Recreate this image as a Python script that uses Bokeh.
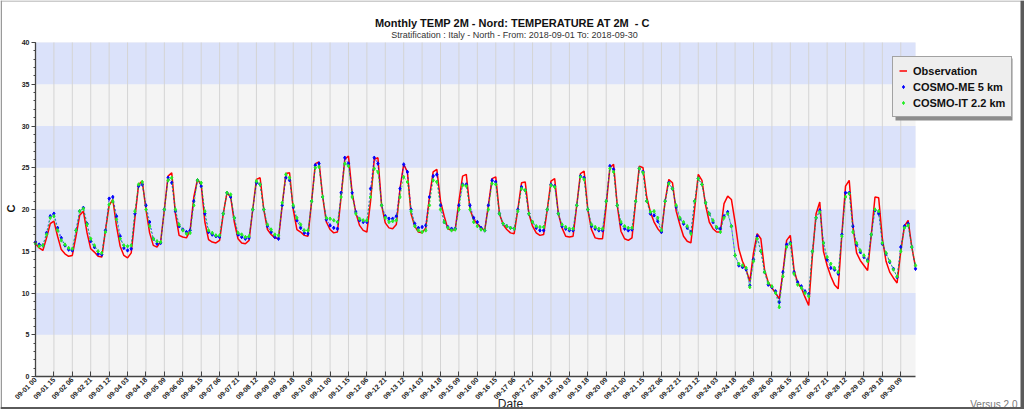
import math
from bokeh.plotting import figure
from bokeh.models import (Range1d, FixedTicker, Label, BoxAnnotation, Legend,
                          LegendItem, ColumnDataSource, LinearAxis)
from bokeh.embed import file_html
from bokeh.resources import INLINE

# ---------------- data (3-hourly, 2018-09-01 00 .. 2018-09-30 21) ----------------
tick_labels = [
    "09-01 00", "09-01 15", "09-02 06", "09-02 21", "09-03 12", "09-04 03",
    "09-04 18", "09-05 09", "09-06 00", "09-06 15", "09-07 06", "09-07 21",
    "09-08 12", "09-09 03", "09-09 18", "09-10 09", "09-11 00", "09-11 15",
    "09-12 06", "09-12 21", "09-13 12", "09-14 03", "09-14 18", "09-15 09",
    "09-16 00", "09-16 15", "09-17 06", "09-17 21", "09-18 12", "09-19 03",
    "09-19 18", "09-20 09", "09-21 00", "09-21 15", "09-22 06", "09-22 21",
    "09-23 12", "09-24 03", "09-24 18", "09-25 09", "09-26 00", "09-26 15",
    "09-27 06", "09-27 21", "09-28 12", "09-29 03", "09-29 18", "09-30 09",
]

observation = [
    15.9, 15.4, 15.1, 16.6, 18.3, 18.6, 16.8, 15.2,
    14.7, 14.4, 14.5, 16.8, 19.3, 19.8, 17.2, 15.3,
    14.9, 14.4, 14.3, 17.5, 20.5, 21.2, 18.0, 15.6,
    14.5, 14.2, 14.8, 19.0, 23.0, 23.4, 20.0, 17.2,
    15.7, 15.5, 16.2, 20.0, 24.0, 24.4, 19.5, 16.9,
    16.7, 16.6, 17.5, 21.5, 23.6, 23.0, 18.5, 16.4,
    16.1, 16.0, 16.3, 19.5, 22.0, 21.5, 18.5, 16.5,
    16.0, 15.9, 16.3, 20.0, 23.6, 23.8, 20.0, 17.6,
    17.0, 16.6, 16.5, 20.5, 24.3, 24.4, 20.0, 17.6,
    17.3, 16.9, 16.8, 21.0, 25.5, 25.7, 21.5, 18.5,
    17.6, 17.2, 17.3, 21.5, 26.0, 26.4, 22.0, 19.6,
    18.1, 17.5, 17.3, 21.0, 26.0, 26.2, 20.5, 18.4,
    17.8, 17.7, 18.2, 22.5, 25.4, 24.5, 19.5, 18.0,
    17.3, 17.2, 17.8, 21.5, 24.5, 24.8, 21.0, 19.2,
    17.7, 17.5, 17.6, 21.0, 24.0, 24.2, 20.0, 18.8,
    18.3, 17.8, 17.5, 20.5, 23.7, 23.9, 19.5, 18.2,
    17.6, 17.2, 17.1, 20.0, 23.2, 23.3, 19.5, 18.0,
    17.2, 16.9, 17.0, 20.0, 23.4, 23.7, 19.5, 17.8,
    16.8, 16.7, 16.8, 20.5, 24.3, 24.6, 20.0, 17.6,
    16.6, 16.5, 16.5, 20.5, 25.0, 25.4, 20.5, 17.4,
    16.5, 16.3, 16.6, 21.0, 25.2, 25.0, 21.5, 19.7,
    18.5, 17.7, 17.2, 21.0, 23.6, 23.2, 19.8, 18.2,
    16.8, 16.2, 16.0, 20.0, 24.2, 23.5, 20.5, 18.5,
    17.7, 17.3, 17.3, 20.7, 21.6, 21.2, 18.5, 15.3,
    13.8, 12.8, 11.4, 14.8, 17.1, 16.5, 12.8, 11.3,
    10.6, 10.0, 9.3, 12.5, 16.3, 16.9, 12.8, 11.2,
    10.6, 9.5, 8.5, 14.5, 19.5, 20.9, 15.0, 13.3,
    12.0, 11.0, 10.5, 17.0, 22.8, 23.5, 18.0, 14.8,
    13.9, 13.3, 12.7, 17.0, 21.5, 21.4, 16.5, 13.8,
    12.5, 11.8, 11.2, 15.0, 18.0, 18.7, 15.5, 13.1,
]

cosmo_me = [
    16.1, 15.8, 15.7, 17.2, 19.2, 19.5, 17.8, 16.6,
    15.7, 15.2, 15.1, 17.5, 19.8, 20.2, 18.3, 16.2,
    15.5, 14.7, 14.6, 17.5, 21.3, 21.5, 19.2, 16.8,
    15.4, 15.1, 15.3, 19.5, 22.8, 23.0, 20.5, 18.5,
    16.5, 15.9, 16.0, 20.0, 23.8, 23.2, 19.8, 18.0,
    17.6, 17.3, 17.5, 21.0, 23.5, 22.8, 19.5, 17.3,
    17.0, 16.8, 16.7, 19.5, 22.0, 21.5, 19.0, 17.0,
    16.7, 16.5, 16.6, 20.0, 23.2, 23.0, 20.0, 18.0,
    17.3, 16.7, 16.5, 20.5, 23.8, 23.5, 20.3, 18.7,
    17.8, 17.2, 17.1, 21.0, 25.3, 25.5, 21.5, 18.8,
    18.1, 17.8, 17.7, 22.0, 26.2, 25.5, 22.0, 19.7,
    18.7, 18.5, 18.5, 22.5, 26.2, 25.5, 20.5, 19.2,
    18.9, 18.9, 19.2, 22.5, 25.4, 24.5, 20.0, 18.3,
    17.8, 17.9, 18.1, 21.5, 24.0, 24.2, 20.5, 18.5,
    17.9, 17.7, 17.7, 20.5, 23.0, 23.0, 20.5, 19.0,
    18.5, 17.8, 17.5, 20.5, 23.5, 23.3, 19.5, 18.3,
    18.0, 17.8, 17.7, 20.0, 22.7, 22.3, 19.5, 18.5,
    17.8, 17.5, 17.5, 20.0, 23.0, 22.8, 19.5, 18.0,
    17.7, 17.5, 17.5, 20.5, 24.0, 23.8, 20.0, 18.0,
    17.7, 17.5, 17.5, 21.0, 25.2, 24.8, 20.5, 18.3,
    17.7, 17.5, 17.6, 21.0, 24.9, 24.5, 21.0, 19.5,
    19.3, 18.6, 17.3, 21.0, 23.2, 22.5, 20.3, 18.9,
    18.3, 17.8, 17.3, 21.0, 23.7, 23.0, 20.8, 19.5,
    18.5, 17.8, 17.7, 19.2, 19.7, 18.0, 14.5, 13.3,
    13.1, 12.8, 10.9, 14.0, 16.8, 15.0, 12.5, 11.0,
    10.7, 10.2, 8.9, 12.5, 15.8, 16.0, 12.5, 11.3,
    10.8, 10.2, 9.9, 15.0, 19.0, 19.9, 16.0, 14.0,
    13.0, 12.8, 12.3, 17.0, 22.0, 22.0, 18.0, 15.8,
    14.9, 14.3, 13.9, 17.0, 19.9, 19.5, 15.9, 14.7,
    13.7, 12.9, 11.9, 15.5, 18.0, 18.3, 15.5, 12.9,
]

cosmo_it = [
    15.9, 15.6, 15.7, 17.0, 19.0, 19.2, 17.5, 16.3,
    15.8, 15.4, 15.3, 17.5, 19.8, 20.1, 18.2, 16.5,
    15.7, 15.0, 14.8, 17.3, 20.6, 21.0, 18.8, 16.5,
    15.7, 15.6, 15.7, 19.8, 23.0, 23.3, 20.0, 18.0,
    16.5, 16.2, 16.1, 20.0, 23.5, 23.8, 20.0, 18.2,
    17.5, 17.1, 17.2, 20.5, 23.5, 23.2, 19.8, 17.5,
    17.2, 16.9, 16.9, 19.5, 22.0, 21.8, 19.0, 17.2,
    17.0, 16.7, 16.8, 20.0, 23.4, 23.0, 20.0, 18.2,
    17.6, 17.0, 16.9, 20.8, 24.2, 23.8, 20.5, 19.0,
    18.2, 17.5, 17.5, 21.0, 25.0, 25.1, 21.5, 19.0,
    18.9, 18.7, 18.5, 21.5, 25.5, 25.2, 21.5, 19.5,
    18.9, 18.7, 18.7, 21.5, 24.9, 24.5, 20.5, 19.0,
    18.5, 18.6, 18.7, 21.5, 23.9, 23.3, 19.8, 18.0,
    17.5, 17.3, 17.5, 20.5, 23.5, 23.3, 20.0, 18.5,
    17.8, 17.5, 17.6, 20.0, 22.9, 22.8, 20.0, 18.5,
    18.0, 17.6, 17.5, 20.0, 23.1, 23.0, 19.5, 18.3,
    18.0, 17.8, 17.7, 19.8, 22.5, 22.3, 19.5, 18.5,
    18.0, 17.9, 17.9, 20.0, 22.9, 22.7, 19.5, 18.2,
    17.9, 17.7, 17.7, 20.5, 23.9, 23.6, 20.0, 18.2,
    17.9, 17.7, 17.7, 21.0, 24.9, 24.5, 20.5, 18.5,
    18.0, 17.8, 17.8, 21.0, 24.9, 24.4, 21.0, 19.7,
    19.8, 19.0, 17.5, 21.0, 23.1, 22.5, 20.5, 19.0,
    18.5, 18.0, 17.1, 21.0, 23.7, 23.0, 20.8, 19.5,
    18.7, 17.9, 17.3, 19.0, 19.5, 18.0, 14.5, 13.5,
    13.3, 13.0, 10.7, 13.8, 16.5, 15.0, 12.5, 11.2,
    10.8, 10.0, 8.3, 12.0, 15.5, 15.9, 12.3, 11.0,
    10.6, 10.0, 9.6, 15.0, 19.0, 19.7, 16.0, 14.3,
    13.5, 13.0, 12.5, 16.8, 21.5, 21.9, 17.3, 16.0,
    15.1, 14.5, 13.8, 17.0, 20.0, 19.8, 16.0, 14.8,
    13.8, 12.8, 12.0, 15.0, 17.8, 18.1, 15.5, 13.3,
]

y_ticks = [0, 5, 10, 15, 20, 25, 30, 35, 40]
blue_bands = [(5, 10), (15, 20), (25, 30), (35, 40)]
y_min, y_max = 0, 40

# ---------------- figure ----------------
W, H = 1024, 409
FRAME_L, FRAME_R, FRAME_T, FRAME_B = 35, 915, 42, 376   # plot area in page pixels

step = list(range(len(observation)))
x_last = len(step) - 1
tick_pos = list(range(0, len(observation), 5))[:len(tick_labels)]

# the whole canvas is the frame; the ranges are widened so the data area sits
# where the reference draws it and the texts around it are not clipped
px_x = (FRAME_R - FRAME_L) / x_last
px_y = (FRAME_B - FRAME_T) / (y_max - y_min)
x_range = Range1d(-FRAME_L / px_x, x_last + (W - FRAME_R) / px_x)
y_range = Range1d(y_min - (H - FRAME_B) / px_y, y_max + FRAME_T / px_y)

src = ColumnDataSource(dict(x=step, obs=observation, me=cosmo_me, it=cosmo_it))

FONT = "Liberation Sans"
p = figure(width=W, height=H, output_backend="svg", toolbar_location=None,
           x_range=x_range, y_range=y_range, x_axis_location=None,
           y_axis_location=None, min_border=0, title=None)
p.outline_line_color = None
p.background_fill_color = "white"
p.border_fill_color = "white"
p.xgrid.visible = False
p.ygrid.visible = False

# plot area background + horizontal bands
p.add_layout(BoxAnnotation(left=0, right=x_last, bottom=y_min, top=y_max,
                           fill_color="#f4f4f4", fill_alpha=1.0, line_color=None,
                           level="image"))
for b0, b1 in blue_bands:
    p.add_layout(BoxAnnotation(left=0, right=x_last, bottom=b0, top=b1,
                               fill_color="#dbe2fa", fill_alpha=1.0, line_color=None,
                               level="image"))

# vertical grid lines at the x ticks
p.segment(x0=tick_pos, x1=tick_pos, y0=[y_min] * len(tick_pos), y1=[y_max] * len(tick_pos),
          line_color="#d4d4d4", line_width=1, level="underlay")

# axes (fixed at the data origin)
xaxis = LinearAxis(fixed_location=y_min, bounds=(0, x_last))
xaxis.ticker = FixedTicker(ticks=tick_pos)
xaxis.major_label_overrides = {t: l for t, l in zip(tick_pos, tick_labels)}
xaxis.major_label_orientation = math.pi / 4
xaxis.major_tick_in = 5
xaxis.major_tick_out = 0
xaxis.minor_tick_line_color = None
xaxis.major_label_standoff = 2

yaxis = LinearAxis(fixed_location=0, bounds=(y_min, y_max))
yaxis.ticker = FixedTicker(ticks=y_ticks, minor_ticks=list(range(y_min, y_max + 1)))
yaxis.major_tick_in = 0
yaxis.major_tick_out = 4
yaxis.minor_tick_in = 0
yaxis.minor_tick_out = 2
yaxis.major_label_standoff = 2
yaxis.minor_tick_line_color = "#444444"

for ax in (xaxis, yaxis):
    ax.axis_line_color = "#444444"
    ax.axis_line_width = 1.3
    ax.major_tick_line_color = "#444444"
    ax.major_label_text_font = FONT
    ax.major_label_text_font_style = "bold"
    ax.major_label_text_font_size = "7px"
    ax.major_label_text_color = "#222222"

p.add_layout(xaxis, "below")
p.add_layout(yaxis, "left")

# series
r_obs = p.line("x", "obs", source=src, line_color="#ff0000", line_width=1.5)
p.line("x", "me", source=src, line_color="#0000ff", line_width=1, line_alpha=0.7,
       line_dash="2 2")
r_me = p.scatter("x", "me", source=src, marker="diamond", size=3.5,
                 fill_color="#0000ff", line_color="#0000ff")
p.line("x", "it", source=src, line_color="#11dd11", line_width=1, line_alpha=0.7,
       line_dash="2 2")
r_it = p.scatter("x", "it", source=src, marker="diamond", size=3.5,
                 fill_color="#22ee22", line_color="#22ee22")

# legend (with a drop shadow)
LEG_L, LEG_T, LEG_W, LEG_H = 892, 55, 117, 62
p.add_layout(BoxAnnotation(left=LEG_L + 3, right=LEG_L + LEG_W + 3,
                           top=H - LEG_T - 3, bottom=H - LEG_T - LEG_H - 3,
                           left_units="screen", right_units="screen",
                           top_units="screen", bottom_units="screen",
                           fill_color="#8c8c8c", fill_alpha=1.0, line_color=None))
legend = Legend(items=[
    LegendItem(label="Observation", renderers=[r_obs]),
    LegendItem(label="COSMO-ME 5 km", renderers=[r_me]),
    LegendItem(label="COSMO-IT 2.2 km", renderers=[r_it]),
], location=(LEG_L, H - LEG_T - LEG_H))
legend.label_text_font = FONT
legend.label_text_font_style = "bold"
legend.label_text_font_size = "11px"
legend.label_text_color = "#111111"
legend.background_fill_color = "#eeeeee"
legend.background_fill_alpha = 1.0
legend.border_line_color = "#555555"
legend.border_line_width = 1
legend.padding = 6
legend.spacing = 1
legend.margin = 0
legend.glyph_width = 8
legend.glyph_height = 15
legend.label_height = 15
legend.label_standoff = 6
p.add_layout(legend, "center")

# texts (positions in page pixels, measured from the top-left corner)
def txt(x, y, text, size, style="normal", color="#111111", align="left", angle=0.0,
        baseline="alphabetic"):
    p.add_layout(Label(x=x, y=H - y, x_units="screen", y_units="screen", text=text,
                       text_font=FONT, text_font_size=size, text_font_style=style,
                       text_color=color, text_align=align, text_baseline=baseline,
                       angle=angle))

txt(512, 22, "Monthly TEMP 2M - Nord: TEMPERATURE AT 2M \u00a0- C", "11px", "bold",
    align="center")
txt(514, 34.5, "Stratification : Italy - North - From: 2018-09-01 To: 2018-09-30",
    "9px", color="#333333", align="center")
txt(10, 208, "C", "11px", "bold", align="center", angle=math.pi / 2, baseline="middle")
txt(510, 403, "Date", "12px", color="#222222", align="center")
txt(1017, 404, "Versus 2.0", "10px", color="#7a7a7a", align="right")

# window frame
def frame_box(l, r, t, b, color):
    p.add_layout(BoxAnnotation(left=l, right=r, top=H - t, bottom=H - b,
                               left_units="screen", right_units="screen",
                               top_units="screen", bottom_units="screen",
                               fill_color=color, fill_alpha=1.0, line_color=None,
                               level="overlay"))

frame_box(0, W, 0, 1, "#9a9a9a")
frame_box(0, 1.5, 0, H, "#9a9a9a")
frame_box(0, W, H - 2.5, H, "#5a5a5a")
frame_box(W - 4, W, 0, H, "#5a5a5a")

out = file_html(p, INLINE)
open("out.html", "w").write(out)
